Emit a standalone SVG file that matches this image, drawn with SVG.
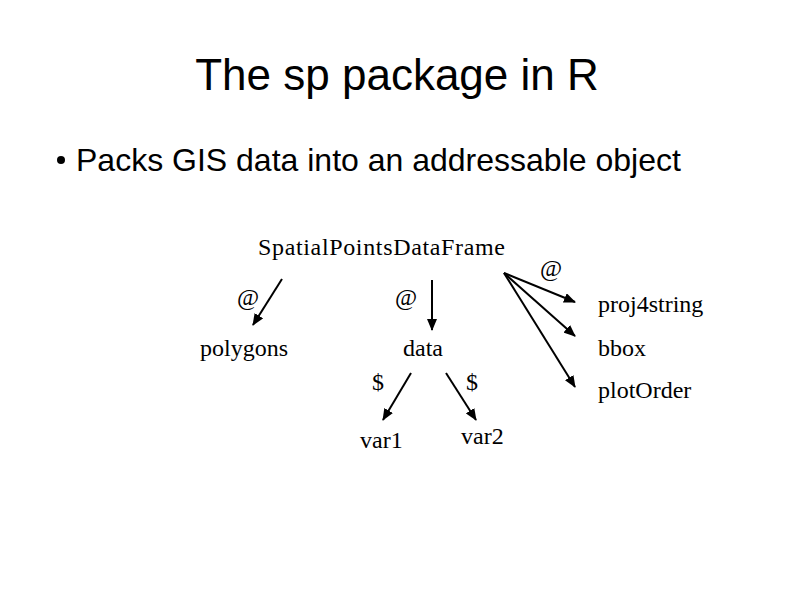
<svg xmlns="http://www.w3.org/2000/svg" width="794" height="595" viewBox="0 0 794 595">
<style>
.title{font-family:"Liberation Sans",Arial,sans-serif;font-size:44px;fill:#000}
.bul{font-family:"Liberation Sans",Arial,sans-serif;font-size:32px;fill:#000}
.t{font-family:"Liberation Serif","Times New Roman",serif;font-size:24px;fill:#000}
.c{stroke:#000;stroke-width:2;fill:none;marker-end:url(#ah)}
</style>
<defs>
<marker id="ah" viewBox="0 0 12 10" refX="11" refY="5" markerWidth="6" markerHeight="5" orient="auto" markerUnits="strokeWidth">
<path d="M0,0 L12,5 L0,10 z" fill="#000"/>
</marker>
</defs>
<rect width="794" height="595" fill="#fff"/>
<text class="title" x="397" y="90" text-anchor="middle">The sp package in R</text>
<circle cx="61" cy="160" r="4" fill="#000"/>
<text class="bul" x="76" y="171">Packs GIS data into an addressable object</text>
<g id="spdf"><text class="t" x="258" y="255" textLength="247" lengthAdjust="spacing">SpatialPointsDataFrame</text></g>
<g id="polygons"><text class="t" x="200" y="356">polygons</text></g>
<g id="data"><text class="t" x="403" y="356">data</text></g>
<g id="var1"><text class="t" x="360" y="448">var1</text></g>
<g id="var2"><text class="t" x="461" y="444">var2</text></g>
<g id="proj4string"><text class="t" x="598" y="312">proj4string</text></g>
<g id="bbox"><text class="t" x="598" y="356">bbox</text></g>
<g id="plotOrder"><text class="t" x="598" y="398">plotOrder</text></g>
<g id="connectors">
<line class="c" x1="282" y1="279" x2="253" y2="325"/>
<line class="c" x1="432" y1="280" x2="432" y2="330"/>
<line class="c" x1="411" y1="373" x2="383" y2="420"/>
<line class="c" x1="446" y1="373" x2="476" y2="420"/>
<line class="c" x1="504" y1="273" x2="575" y2="302"/>
<line class="c" x1="504" y1="273" x2="575" y2="336"/>
<line class="c" x1="504" y1="273" x2="575" y2="387"/>
<text class="t" x="237" y="305">@</text>
<text class="t" x="395" y="305">@</text>
<text class="t" x="540" y="276">@</text>
<text class="t" x="372" y="390">$</text>
<text class="t" x="466" y="390">$</text>
</g>
</svg>
